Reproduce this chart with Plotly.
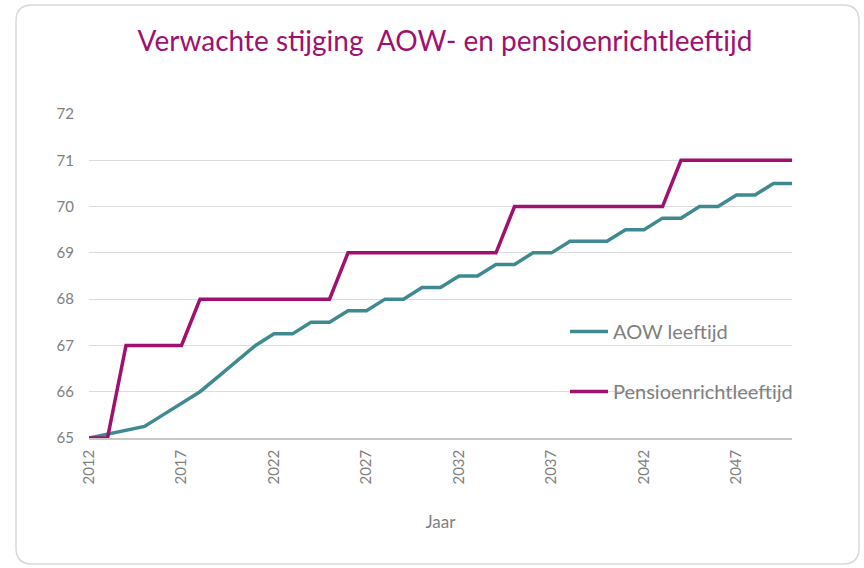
import plotly.graph_objects as go

# jaren en leeftijden
jaren = list(range(2012, 2051))

aow_leeftijd = [65, 65.083, 65.167, 65.25, 65.5, 65.75, 66, 66.333, 66.667, 67,
                67.25, 67.25, 67.5, 67.5, 67.75, 67.75, 68, 68, 68.25, 68.25,
                68.5, 68.5, 68.75, 68.75, 69, 69, 69.25, 69.25, 69.25, 69.5,
                69.5, 69.75, 69.75, 70, 70, 70.25, 70.25, 70.5, 70.5]

pensioen_leeftijd = [65, 65, 67, 67, 67, 67, 68, 68, 68, 68,
                     68, 68, 68, 68, 69, 69, 69, 69, 69, 69,
                     69, 69, 69, 70, 70, 70, 70, 70, 70, 70,
                     70, 70, 71, 71, 71, 71, 71, 71, 71]

teal = '#3F8A90'
magenta = '#A0106E'
grijs = '#808080'
font_naam = 'Lato, Open Sans, sans-serif'

fig = go.Figure()

fig.add_trace(go.Scatter(
    x=jaren, y=aow_leeftijd, mode='lines', name='AOW leeftijd',
    legendgroup='aow',
    line=dict(color=teal, width=3.5)
))
fig.add_trace(go.Scatter(
    x=jaren, y=pensioen_leeftijd, mode='lines', name='Pensioenrichtleeftijd',
    legendgroup='pensioen',
    line=dict(color=magenta, width=3.5)
))

# plotgebied: x 89..792, y 114..438 pixels
W, H = 864, 568
ml, mr, mt, mb = 89, 72, 114, 130
pw, ph = W - ml - mr, H - mt - mb

# afgeronde rand om de hele grafiek
x0, x1 = (16 - ml) / pw, (859 - ml) / pw
y0, y1 = (H - mb - 564) / ph, (H - mb - 5) / ph
rx, ry = 16 / pw, 16 / ph
rand = (f'M {x0+rx} {y1} L {x1-rx} {y1} Q {x1} {y1} {x1} {y1-ry} '
        f'L {x1} {y0+ry} Q {x1} {y0} {x1-rx} {y0} L {x0+rx} {y0} '
        f'Q {x0} {y0} {x0} {y0+ry} L {x0} {y1-ry} Q {x0} {y1} {x0+rx} {y1} Z')
fig.add_shape(type='path', path=rand, xref='paper', yref='paper',
              line=dict(color='#D9D9D9', width=1.5), layer='below')

fig.update_layout(
    width=W, height=H,
    margin=dict(l=ml, r=mr, t=mt, b=mb),
    paper_bgcolor='white',
    plot_bgcolor='white',
    font=dict(family=font_naam, color=grijs),
    title=dict(
        text='Verwachte stijging  AOW- en pensioenrichtleeftijd',
        font=dict(family=font_naam, size=28, color=magenta),
        x=445 / W, xanchor='center', xref='container',
        y=1 - 41 / H, yanchor='middle', yref='container'
    ),
    xaxis=dict(
        range=[2012, 2050],
        tick0=2012, dtick=5,
        tickangle=-90,
        tickfont=dict(size=15, color=grijs),
        showgrid=False,
        showline=True, linecolor='#C8C8C8', linewidth=1.5,
        ticks='', ticklabelstandoff=4,
        title=dict(text='Jaar', font=dict(size=17, color=grijs), standoff=33)
    ),
    yaxis=dict(
        range=[65, 72],
        dtick=1,
        tickfont=dict(size=15, color=grijs),
        showgrid=True, gridcolor='#DCDCDC', gridwidth=1,
        zeroline=False,
        showline=False,
        ticks='', ticklabelstandoff=14
    ),
    legend=dict(
        x=(565 - ml) / pw, y=(H - mb - 312) / ph,
        xanchor='left', yanchor='top',
        bgcolor='rgba(0,0,0,0)',
        font=dict(size=20, color=grijs),
        tracegroupgap=31,
        itemwidth=38
    ),
    showlegend=True
)

fig.write_html('out.html', config={'displayModeBar': False},
               post_script="document.body.style.margin='0';")
